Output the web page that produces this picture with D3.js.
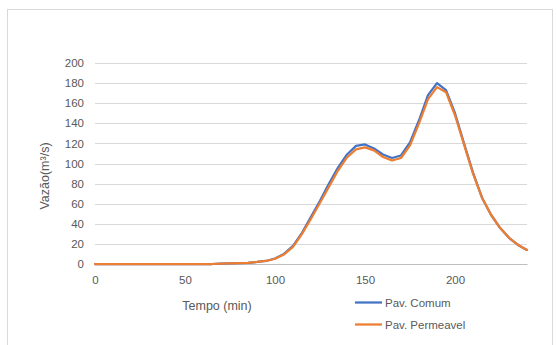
<!DOCTYPE html>
<html>
<head>
<meta charset="utf-8">
<script src="https://cdn.jsdelivr.net/npm/d3@7"></script>
<style>
  html, body { margin: 0; padding: 0; background: #ffffff; }
  svg { display: block; font-family: "Liberation Sans", Arial, sans-serif; }
</style>
</head>
<body>
<svg id="chart" width="557" height="345"></svg>
<script>
// Time steps (min)
const tempo = d3.range(0, 241, 5);

// Discharge, conventional pavement (m³/s)
const pavComum = [
  0, 0, 0, 0, 0, 0, 0, 0, 0, 0, 0, 0, 0, 0,
  0.3, 0.5, 0.8, 1.2, 2, 3, 5.5, 10, 18, 31, 47, 63, 80, 96, 109,
  117.5, 119, 115, 109, 105.5, 108, 121, 143, 168, 180, 173, 150,
  120, 91, 66, 49, 36, 26, 19, 14
];

// Discharge, permeable pavement (m³/s)
const pavPermeavel = [
  0, 0, 0, 0, 0, 0, 0, 0, 0, 0, 0, 0, 0, 0,
  0.3, 0.5, 0.8, 1.2, 2, 3, 5.2, 9.5, 17, 30, 45, 61, 77, 93, 106,
  114, 116, 113, 106.5, 103, 105.5, 118, 140, 164, 176, 171, 148,
  119, 90, 66, 49, 36, 26, 19, 14
];

const xTicks = [0, 50, 100, 150, 200];
const yTicks = [0, 20, 40, 60, 80, 100, 120, 140, 160, 180, 200];

const seriesNames = ["Pav. Comum", "Pav. Permeavel"];
const seriesColors = ["#4472c4", "#ed7d31"];

const svg = d3.select("#chart");

// Outer chart frame
svg.append("rect")
  .attr("x", 7.5).attr("y", 9.5)
  .attr("width", 545).attr("height", 345)
  .attr("fill", "#ffffff")
  .attr("stroke", "#d9d9d9").attr("stroke-width", 1);

const x = d3.scaleLinear().domain([0, 240]).range([95, 527]);
const y = d3.scaleLinear().domain([0, 200]).range([264, 63]);

// Horizontal gridlines
svg.append("g")
  .selectAll("line")
  .data(yTicks)
  .join("line")
  .attr("x1", x(0)).attr("x2", x(240))
  .attr("y1", d => Math.round(y(d)) + 0.5)
  .attr("y2", d => Math.round(y(d)) + 0.5)
  .attr("stroke", "#d9d9d9").attr("stroke-width", 1);

// Y axis labels
const yAxis = d3.axisLeft(y).tickValues(yTicks).tickSize(0).tickPadding(11);
svg.append("g")
  .attr("transform", `translate(${x(0)},0)`)
  .call(yAxis)
  .call(g => g.select(".domain").remove())
  .call(g => g.selectAll("text")
    .attr("fill", "#595959")
    .style("font-size", "11.5px")
    .style("font-family", "'Liberation Sans', Arial, sans-serif"));

// X axis labels
const xAxis = d3.axisBottom(x).tickValues(xTicks).tickSize(0).tickPadding(12);
svg.append("g")
  .attr("transform", `translate(0,${y(0)})`)
  .call(xAxis)
  .call(g => g.select(".domain")
    .attr("stroke", "#bfbfbf"))
  .call(g => g.selectAll("text")
    .attr("fill", "#595959")
    .style("font-size", "11.5px")
    .style("font-family", "'Liberation Sans', Arial, sans-serif"));

// Axis titles
svg.append("text")
  .attr("transform", `translate(49,${176}) rotate(-90)`)
  .attr("text-anchor", "middle")
  .attr("fill", "#595959")
  .style("font-size", "12.5px")
  .text("Vazão(m³/s)");

svg.append("text")
  .attr("x", 217).attr("y", 310)
  .attr("text-anchor", "middle")
  .attr("fill", "#595959")
  .style("font-size", "12.5px")
  .text("Tempo (min)");

// Series lines
const line = d3.line()
  .x((d, i) => x(tempo[i]))
  .y(d => y(d));

[pavComum, pavPermeavel].forEach((vals, k) => {
  svg.append("path")
    .datum(vals)
    .attr("d", line)
    .attr("fill", "none")
    .attr("stroke", seriesColors[k])
    .attr("stroke-width", 2.25)
    .attr("stroke-linejoin", "round")
    .attr("stroke-linecap", "round");
});

// Legend
const legend = svg.append("g");
seriesNames.forEach((name, k) => {
  const ly = 302.5 + k * 22;
  legend.append("line")
    .attr("x1", 355).attr("x2", 382)
    .attr("y1", ly).attr("y2", ly)
    .attr("stroke", seriesColors[k])
    .attr("stroke-width", 2.25);
  legend.append("text")
    .attr("x", 385).attr("y", ly + 4)
    .attr("fill", "#595959")
    .style("font-size", "11.5px")
    .text(name);
});
</script>
</body>
</html>
